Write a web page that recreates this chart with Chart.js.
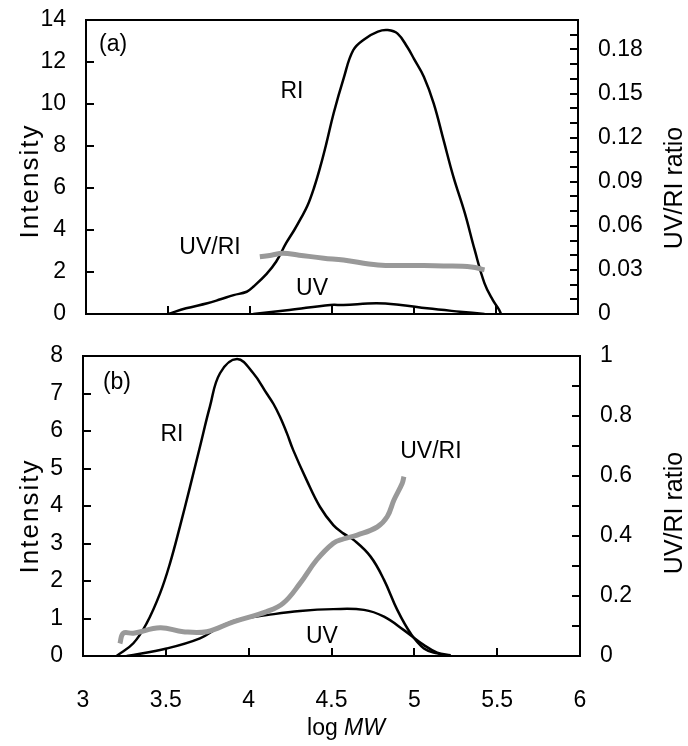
<!DOCTYPE html>
<html>
<head>
<meta charset="utf-8">
<script src="https://cdn.jsdelivr.net/npm/chart.js@4.4.1/dist/chart.umd.min.js"></script>
<style>
html,body{margin:0;padding:0;background:#fff;}
#wrap{position:relative;width:688px;height:746px;overflow:hidden;}
#ca{position:absolute;left:0;top:0;}
#cb{position:absolute;left:0;top:335px;}
</style>
</head>
<body>
<div id="wrap">
<canvas id="ca" width="688" height="335"></canvas>
<canvas id="cb" width="688" height="411"></canvas>
</div>
<script>
// ---------- Panel (a) data ----------
const aRI_x = [3.50,3.61,3.74,3.82,3.90,3.98,4.02,4.10,4.16,4.22,4.27,4.31,4.35,4.39,4.43,4.465,4.51,4.57,4.63,4.70,4.78,4.84,4.90,4.96,5.00,5.06,5.12,5.18,5.24,5.31,5.37,5.43,5.48,5.52,5.53];
const aRI_y = [0,0.27,0.51,0.70,0.90,1.06,1.30,1.90,2.50,3.37,4.00,4.55,5.15,6.00,7.05,8.10,9.56,11.2,12.57,13.1,13.45,13.52,13.35,12.70,12.15,11.3,10.03,8.29,6.54,4.80,3.05,1.46,0.67,0.19,0];
const aUV_x = [4.02,4.24,4.49,4.57,4.77,4.92,5.08,5.28,5.43];
const aUV_y = [0,0.19,0.43,0.43,0.51,0.43,0.27,0.11,0];
const aRatio_x = [4.06,4.13,4.20,4.30,4.45,4.57,4.78,5.00,5.18,5.35,5.43];
const aRatio_y = [0.039,0.040,0.0413,0.040,0.038,0.0367,0.0333,0.033,0.0327,0.032,0.030];

// ---------- Panel (b) data ----------
const bRI_x = [3.203,3.304,3.384,3.465,3.525,3.585,3.646,3.706,3.766,3.827,3.93,4.028,4.109,4.15,4.189,4.23,4.269,4.350,4.430,4.511,4.571,4.635,4.736,4.817,4.897,4.978,5.058,5.138,5.219];
const bRI_y = [0,0.34,0.87,1.67,2.47,3.45,4.51,5.58,6.65,7.54,7.92,7.54,7.0,6.72,6.38,5.95,5.49,4.69,3.98,3.49,3.27,3.09,2.65,2.03,1.23,0.60,0.20,0.07,0];
const bUV_x = [3.264,3.505,3.706,3.827,3.947,4.109,4.31,4.511,4.696,4.817,4.937,5.058,5.138,5.219];
const bUV_y = [0,0.20,0.47,0.78,0.98,1.09,1.20,1.25,1.23,1.05,0.69,0.29,0.09,0.02];
const bRatio_x = [3.223,3.243,3.304,3.465,3.605,3.747,3.907,4.109,4.209,4.310,4.410,4.511,4.571,4.655,4.776,4.836,4.877,4.927,4.937];
const bRatio_y = [0.042,0.076,0.076,0.094,0.081,0.081,0.114,0.148,0.176,0.242,0.320,0.376,0.390,0.403,0.430,0.464,0.520,0.576,0.598];

// ---------- axis ranges / ticks ----------
const xMin = 3, xMax = 6, xStep = 0.5;
const aLeft = {min:0, max:14, step:2};
const aRight = {min:0, max:0.2, step:0.01, labelEvery:3};
const bLeft = {min:0, max:8, step:1};
const bRight = {min:0, max:1, step:0.1, labelEvery:2};

const FONT = "'Liberation Sans', Arial, Helvetica, sans-serif";
const BLACK = '#000';
const GREY = '#999999';

function pts(xs, ys){ return xs.map((x,i)=>({x:x, y:ys[i]})); }

function lineDS(data, color, width, axis, order){
  return {data:data, borderColor:color, borderWidth:width, pointRadius:0, fill:false,
          tension:0.4, yAxisID:axis, order:order,
          borderCapStyle:'butt', borderJoinStyle:'round'};
}

function yScale(pos, r, width, labelStep, padding){
  return {
    type:'linear', position:pos, min:r.min, max:r.max,
    ticks:{stepSize:r.step, autoSkip:false, padding:padding, color:BLACK,
      font:{family:FONT, size:23},
      callback:function(v){
        const n = Math.round(v/r.step);
        if (labelStep && n % labelStep !== 0) return '';
        return String(Number(v.toFixed(2)));
      }},
    grid:{drawOnChartArea:false, drawTicks:true, tickLength:-8, color:BLACK, lineWidth:2},
    border:{display:true, color:BLACK, width:2},
    afterFit:function(s){ s.width = width; s.paddingTop = 0; s.paddingBottom = 0; }
  };
}

function xScale(showLabels, height){
  return {
    type:'linear', position:'bottom', min:xMin, max:xMax,
    ticks:{stepSize:xStep, display:showLabels, padding:39, color:BLACK, autoSkip:false,
      font:{family:FONT, size:23},
      callback:function(v){ return String(Number(v.toFixed(2))); }},
    grid:{drawOnChartArea:false, drawTicks:true, tickLength:-8, color:BLACK, lineWidth:2},
    border:{display:true, color:BLACK, width:2},
    afterFit:function(s){ s.height = height; s.paddingLeft = 0; s.paddingRight = 0; }
  };
}

// annotation texts given in data coordinates of the x / left-y scales
function annotPlugin(notes, titles){
  return {
    id:'annot',
    afterDraw(chart){
      const ctx = chart.ctx, a = chart.chartArea;
      ctx.save();
      // top frame line to close the box
      ctx.strokeStyle = BLACK; ctx.lineWidth = 2;
      ctx.beginPath(); ctx.moveTo(a.left, a.top); ctx.lineTo(a.right, a.top); ctx.stroke();
      ctx.fillStyle = BLACK;
      ctx.font = '23px ' + FONT;
      ctx.textAlign = 'center'; ctx.textBaseline = 'middle';
      const xs = chart.scales.x, ys = chart.scales.y;
      notes.forEach(n => {
        ctx.fillText(n.t, xs.getPixelForValue(n.x), ys.getPixelForValue(n.y));
      });
      titles.forEach(t => {
        ctx.save();
        ctx.font = t.size + 'px ' + FONT;
        if (t.spacing) ctx.letterSpacing = t.spacing + 'px';
        ctx.translate(t.px, t.py);
        if (t.rot) ctx.rotate(t.rot);
        ctx.textBaseline = 'alphabetic';
        if (t.parts){
          let total = 0;
          t.parts.forEach(p => { ctx.font = (p.i ? 'italic ' : '') + t.size + 'px ' + FONT; total += ctx.measureText(p.s).width; });
          let cx = -total/2;
          ctx.textAlign = 'left';
          t.parts.forEach(p => { ctx.font = (p.i ? 'italic ' : '') + t.size + 'px ' + FONT; ctx.fillText(p.s, cx, 0); cx += ctx.measureText(p.s).width; });
        } else {
          ctx.textAlign = 'center';
          ctx.fillText(t.t, 0, 0);
        }
        ctx.restore();
      });
      ctx.restore();
    }
  };
}

Chart.defaults.font.family = FONT;
Chart.defaults.color = BLACK;

// ---------- Chart (a) ----------
new Chart(document.getElementById('ca'), {
  type:'line',
  data:{datasets:[
    lineDS(pts(aRatio_x, aRatio_y), GREY, 5, 'y2', 0),
    lineDS(pts(aRI_x, aRI_y), BLACK, 2.5, 'y', 1),
    lineDS(pts(aUV_x, aUV_y), BLACK, 2.5, 'y', 1)
  ]},
  options:{
    responsive:false, animation:false, events:[],
    layout:{padding:{top:20, left:0, right:0, bottom:0}},
    plugins:{legend:{display:false}, tooltip:{enabled:false}},
    scales:{
      x: xScale(false, 21),
      y: yScale('left', aLeft, 86, 0, 28),
      y2: yScale('right', aRight, 110, aRight.labelEvery, 28)
    }
  },
  plugins:[annotPlugin(
    [{t:'(a)', x:3.165, y:12.83}, {t:'RI', x:4.256, y:10.61}, {t:'UV/RI', x:3.756, y:3.15}, {t:'UV', x:4.378, y:1.19}],
    [{t:'Intensity', px:37.5, py:181, rot:-Math.PI/2, size:26, spacing:2},
     {t:'UV/RI ratio', px:682, py:188, rot:-Math.PI/2, size:25}]
  )]
});

// ---------- Chart (b) ----------
new Chart(document.getElementById('cb'), {
  type:'line',
  data:{datasets:[
    lineDS(pts(bRatio_x, bRatio_y), GREY, 5, 'y2', 0),
    lineDS(pts(bRI_x, bRI_y), BLACK, 2.5, 'y', 1),
    lineDS(pts(bUV_x, bUV_y), BLACK, 2.5, 'y', 1)
  ]},
  options:{
    responsive:false, animation:false, events:[],
    layout:{padding:{top:21, left:0, right:0, bottom:0}},
    plugins:{legend:{display:false}, tooltip:{enabled:false}},
    scales:{
      x: xScale(true, 90),
      y: yScale('left', bLeft, 83, 0, 28),
      y2: yScale('right', bRight, 108, bRight.labelEvery, 28)
    }
  },
  plugins:[annotPlugin(
    [{t:'(b)', x:3.205, y:7.28}, {t:'RI', x:3.537, y:5.89}, {t:'UV', x:4.442, y:0.51}, {t:'UV/RI', x:5.10, y:5.44}],
    [{t:'Intensity', px:37.5, py:181, rot:-Math.PI/2, size:26, spacing:2},
     {t:'UV/RI ratio', px:682, py:178, rot:-Math.PI/2, size:25},
     {parts:[{s:'log ', i:false},{s:'MW', i:true}], px:346, py:400, size:23}]
  )]
});
</script>
</body>
</html>
